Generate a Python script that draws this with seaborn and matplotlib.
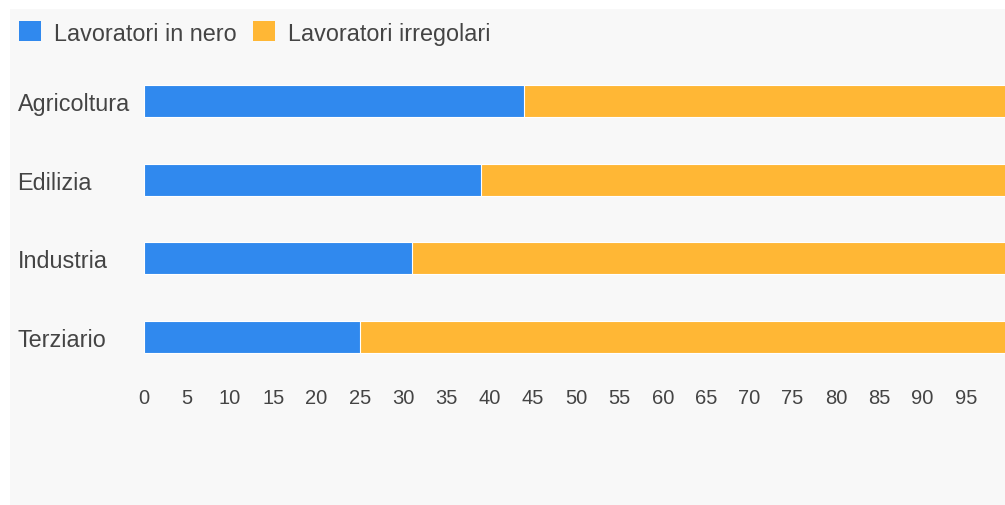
import matplotlib
matplotlib.use("Agg")
import matplotlib.pyplot as plt
from matplotlib.patches import Patch, Rectangle
import seaborn as sns
import pandas as pd

# Share of workers by sector (percent)
settori = ["Agricoltura", "Edilizia", "Industria", "Terziario"]
in_nero = [44, 39, 31, 25]
irregolari = [56, 61, 69, 75]
tick_valori = list(range(0, 100, 5))

serie_nomi = ["Lavoratori in nero", "Lavoratori irregolari"]
colore_nero = "#3089ee"
colore_irreg = "#ffb735"
testo = "#444444"

sns.set_theme(style="white")
plt.rcParams["font.family"] = ["Liberation Sans", "DejaVu Sans"]

df = pd.DataFrame({
    "settore": settori,
    "nero": in_nero,
    "totale": [a + b for a, b in zip(in_nero, irregolari)],
})

W, H = 1005, 506
fig = plt.figure(figsize=(W / 100, H / 100), dpi=100, facecolor="white")
fig.patches.append(Rectangle((10 / W, 0), 1, 1 - 10 / H, transform=fig.transFigure,
                             facecolor="#f8f8f8", edgecolor="none", zorder=-10))

ax = fig.add_axes([143.5 / W, 1 - 377.4 / H, 865.5 / W, (377.4 - 62.6) / H])
ax.set_facecolor("none")
ax.set_zorder(1)

# Stacked bars: cumulative total first, then the first series on top
sns.barplot(data=df, y="settore", x="totale", color=colore_irreg, saturation=1,
            width=0.41, edgecolor="white", linewidth=0.8, ax=ax)
sns.barplot(data=df, y="settore", x="nero", color=colore_nero, saturation=1,
            width=0.41, edgecolor="white", linewidth=0.8, ax=ax)

ax.set_xlim(0, 100)
ax.set_ylim(3.5, -0.5)
ax.set_xticks(tick_valori)
ax.set_xticklabels([str(v) for v in tick_valori], fontsize=14.5, color=testo)
ax.set_yticks(range(len(settori)))
ax.set_yticklabels(settori, fontsize=16.8, color=testo, ha="left")
ax.tick_params(axis="y", length=0, pad=126 * 0.72)
ax.tick_params(axis="x", length=0, pad=8.5)
ax.set_xlabel("")
ax.set_ylabel("")
for s in ax.spines.values():
    s.set_visible(False)
ax.grid(False)

handles = [Patch(facecolor=colore_nero, edgecolor="none"),
           Patch(facecolor=colore_irreg, edgecolor="none")]
fig.legend(handles, serie_nomi, loc="center left",
           bbox_to_anchor=(19 / W, 1 - 34 / H), ncol=2, frameon=False,
           fontsize=16.8, labelcolor=testo, handlelength=0.94, handleheight=0.94,
           handletextpad=0.55, columnspacing=0.72, borderaxespad=0, borderpad=0)

fig.savefig("out.png", dpi=100, facecolor="white")
